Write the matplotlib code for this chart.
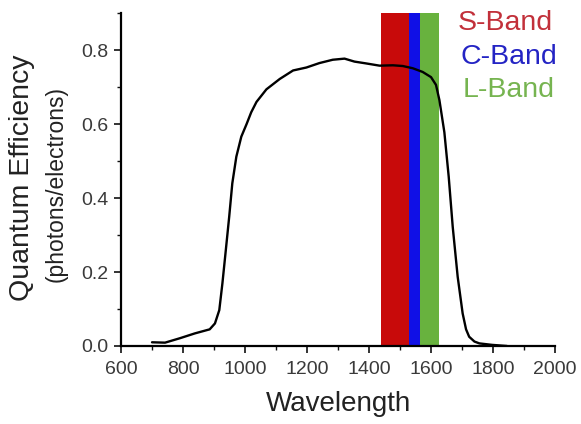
import matplotlib
matplotlib.use('Agg')
import matplotlib.pyplot as plt
from matplotlib.ticker import MultipleLocator, FormatStrFormatter

plt.rcParams['font.family'] = ['Liberation Sans', 'DejaVu Sans']

# quantum efficiency curve
wavelength = [700, 742, 790, 838, 886, 903, 917, 927, 938, 949, 959, 972,
              988, 1005, 1020, 1037, 1069, 1112, 1155, 1198, 1240, 1283,
              1321, 1353, 1391, 1434, 1477, 1509, 1541, 1573, 1600, 1616,
              1627, 1643, 1657, 1670, 1686, 1702, 1713, 1723, 1740, 1756,
              1797, 1845]
efficiency = [0.010, 0.009, 0.021, 0.034, 0.045, 0.061, 0.097, 0.169, 0.259,
              0.350, 0.440, 0.512, 0.566, 0.600, 0.632, 0.660, 0.694, 0.722,
              0.745, 0.753, 0.765, 0.774, 0.777, 0.769, 0.764, 0.758, 0.759,
              0.757, 0.751, 0.741, 0.727, 0.706, 0.665, 0.578, 0.458, 0.322,
              0.187, 0.088, 0.045, 0.025, 0.012, 0.007, 0.003, 0.000]

band_names = ['S-Band', 'C-Band', 'L-Band']
band_start = [1440, 1530, 1565]
band_end = [1530, 1565, 1625]
band_colors = ['#c80a0a', '#1010e6', '#68b23e']
label_colors = ['#c2303a', '#2424c4', '#76b450']

fig = plt.figure(figsize=(5.81, 4.24), dpi=100)
ax = fig.add_axes([0.2083, 0.184, 0.7470, 0.785])

for s, e, c in zip(band_start, band_end, band_colors):
    ax.axvspan(s, e, ymin=0, ymax=1, color=c, lw=0, zorder=1)

ax.plot(wavelength, efficiency, color='black', lw=1.7, zorder=3,
        solid_joinstyle='round', solid_capstyle='round')

ax.set_xlim(600, 2000)
ax.set_ylim(0, 0.9)
ax.xaxis.set_major_locator(MultipleLocator(200))
ax.xaxis.set_minor_locator(MultipleLocator(100))
ax.yaxis.set_major_locator(MultipleLocator(0.2))
ax.yaxis.set_minor_locator(MultipleLocator(0.1))
ax.yaxis.set_major_formatter(FormatStrFormatter('%.1f'))
ax.spines['top'].set_visible(False)
ax.spines['right'].set_visible(False)
for sp in ('left', 'bottom'):
    ax.spines[sp].set_linewidth(1.6)
    ax.spines[sp].set_zorder(4)
ax.tick_params(which='major', length=5, width=1.2, labelsize=14,
               colors='#111111', labelcolor='#3a3a3a')
ax.tick_params(which='minor', length=3, width=1.0, colors='#111111')
ax.tick_params(axis='x', pad=6)
ax.tick_params(axis='y', pad=4)

ax.set_xlabel('Wavelength', fontsize=20, color='#222222', labelpad=9)
fig.text(0.038, 0.58, 'Quantum Efficiency', rotation=90, fontsize=20.5,
         ha='center', va='center', color='#222222')
fig.text(0.097, 0.566, '(photons/electrons)', rotation=90, fontsize=16.5,
         ha='center', va='center', color='#222222')

ys = [0.946, 0.866, 0.788]
xs = [0.788, 0.792, 0.797]
for name, c, x, y in zip(band_names, label_colors, xs, ys):
    fig.text(x, y, name, color=c, fontsize=20.5, ha='left', va='center')

fig.savefig('out.png', dpi=100)
